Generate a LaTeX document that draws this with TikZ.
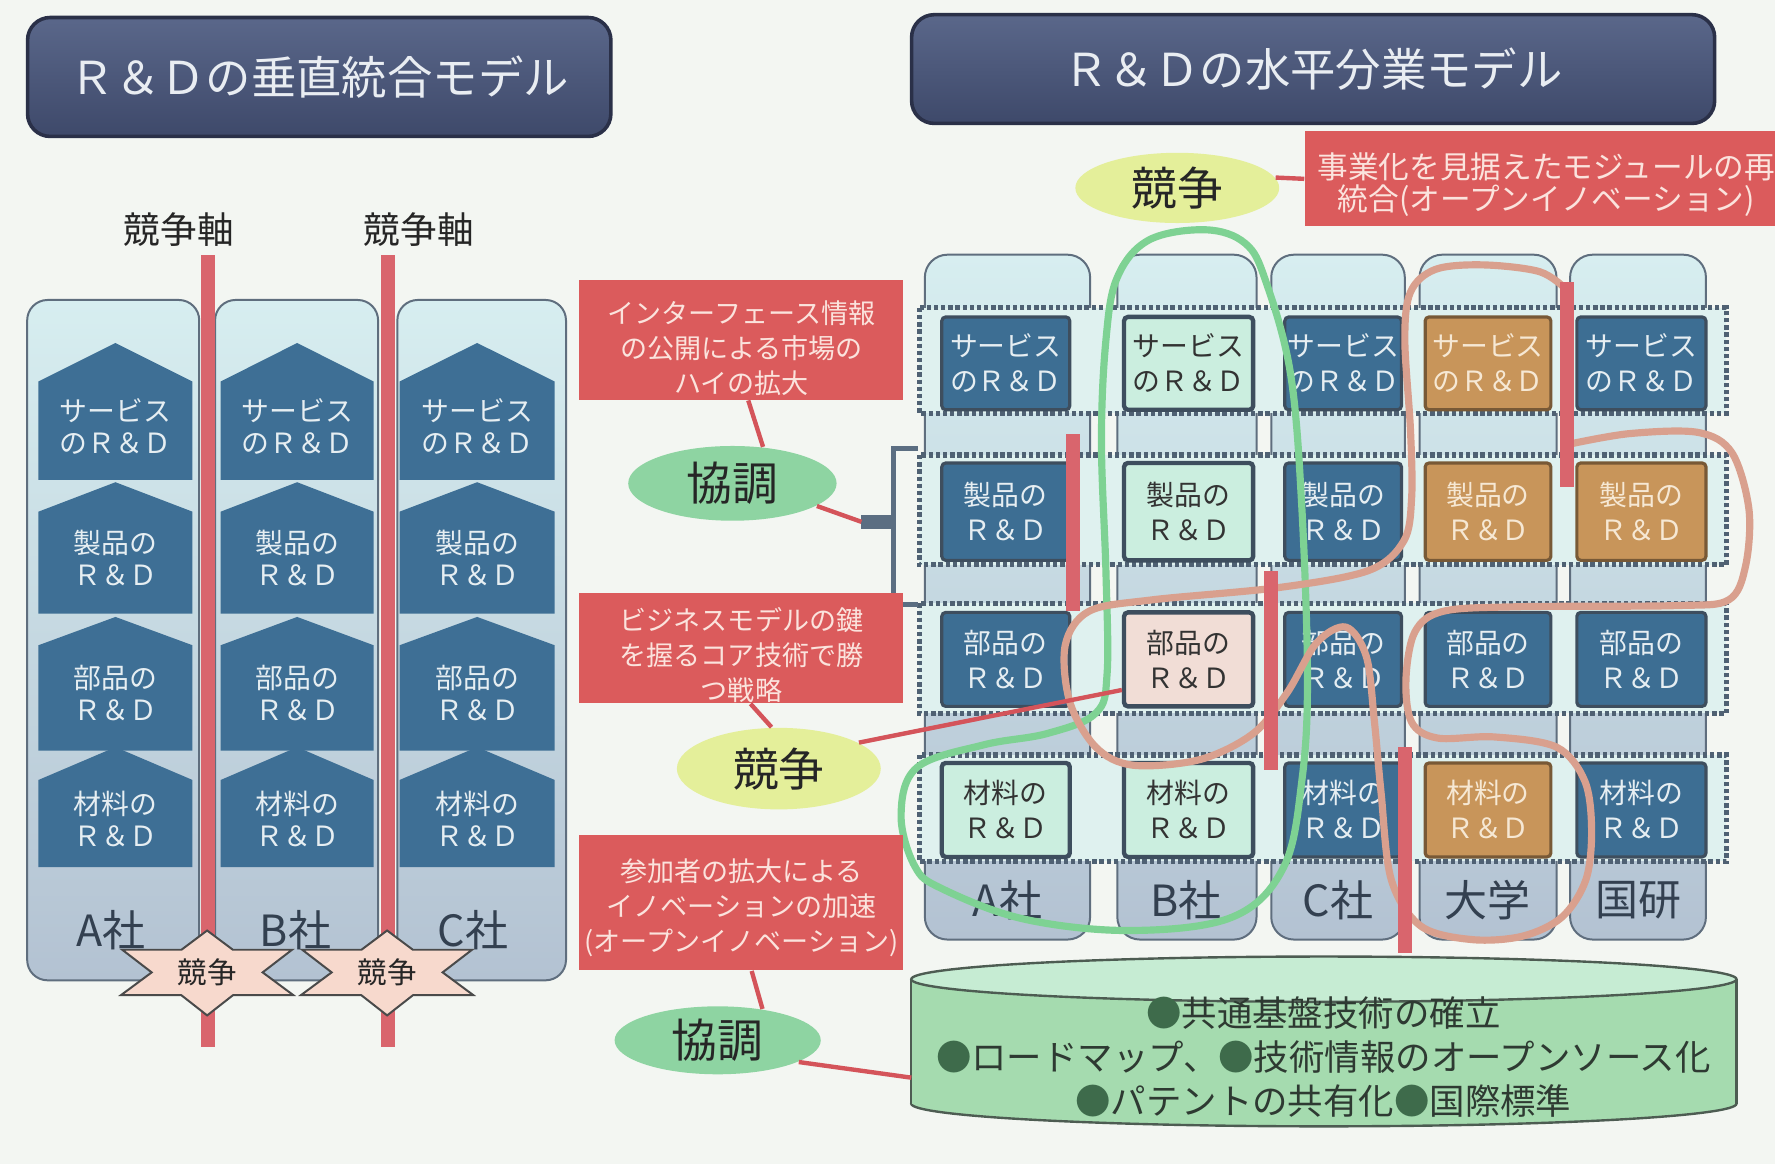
\documentclass[tikz,border=0pt]{standalone}
\usepackage{fontspec}
\setmainfont{Noto Sans CJK JP}
\usetikzlibrary{shapes.geometric}
\definecolor{paper}{HTML}{F3F6F2}
\definecolor{titleTop}{HTML}{5A678A}
\definecolor{titleBot}{HTML}{3E496A}
\definecolor{titleEdge}{HTML}{2A3048}
\definecolor{titleText}{HTML}{E9EDF2}
\definecolor{colTop}{HTML}{D7EEF0}
\definecolor{colBot}{HTML}{B3C2D2}
\definecolor{colEdge}{HTML}{5F6E7E}
\definecolor{houseC}{HTML}{3E6F95}
\definecolor{houseText}{HTML}{E6EEF2}
\definecolor{redbar}{HTML}{D9656D}
\definecolor{redbox}{HTML}{DB5B5C}
\definecolor{redboxText}{HTML}{FBE3DD}
\definecolor{starFill}{HTML}{F7D9CD}
\definecolor{starEdge}{HTML}{4A4A4A}
\definecolor{kyoG}{HTML}{8ED4A2}
\definecolor{kyoY}{HTML}{E4EF9A}
\definecolor{cellBlue}{HTML}{3D6E93}
\definecolor{cellGreen}{HTML}{CBEEDF}
\definecolor{cellPink}{HTML}{F1DDD6}
\definecolor{cellOrange}{HTML}{C8955A}
\definecolor{cellOrText}{HTML}{F6E8D4}
\definecolor{cellEdge}{HTML}{3E4E5E}
\definecolor{frameFill}{HTML}{DFF1EF}
\definecolor{frameEdge}{HTML}{4F6173}
\definecolor{greenLoop}{HTML}{7ED293}
\definecolor{pinkLoop}{HTML}{D9A08E}
\definecolor{cylBody}{HTML}{A5DBAF}
\definecolor{cylTop}{HTML}{C6ECD3}
\definecolor{cylEdge}{HTML}{4D5C52}
\definecolor{cylText}{HTML}{2E3A32}
\definecolor{dotC}{HTML}{3E6B4B}
\definecolor{bracketC}{HTML}{5B6E82}
\definecolor{labelC}{HTML}{334050}
\definecolor{conC}{HTML}{D4545A}
\newcommand{\fsz}[2]{\fontsize{#1}{#2}\selectfont}
\newcommand{\gdot}{{\color{dotC}●}}
\tikzset{
  titlebox/.style={draw=titleEdge, line width=0.9pt, rounded corners=0.2cm, top color=titleTop, bottom color=titleBot, text=titleText, font=\fsz{11.4pt}{13pt}, inner sep=0pt},
  axislabel/.style={font=\fsz{9.2pt}{11pt}, text=black!85},
  colbg/.style={draw=colEdge, line width=0.5pt, top color=colTop, bottom color=colBot},
  housesty/.style={fill=houseC},
  housetext/.style={text=houseText, font=\fsz{7pt}{8.1pt}, align=center},
  comp/.style={text=labelC, font=\fsz{10.8pt}{12pt}},
  redbarsty/.style={fill=redbar},
  starsty/.style={fill=starFill, draw=starEdge, line width=0.5pt},
  startext/.style={font=\fsz{7.4pt}{8pt}, text=black!85},
  redboxsty/.style={fill=redbox, inner sep=0pt},
  redtext/.style={text=redboxText, font=\fsz{6.8pt}{8.8pt}, align=center},
  ovalG/.style={ellipse, fill=kyoG, inner sep=0pt, font=\fsz{11.5pt}{13pt}, text=black!85},
  ovalY/.style={ellipse, fill=kyoY, inner sep=0pt, font=\fsz{11.5pt}{13pt}, text=black!85},
  con/.style={draw=conC, line width=1.1pt},
  rowframe/.style={fill=frameFill, draw=frameEdge, line width=1.3pt, dash pattern=on 1.1pt off 0.7pt},
  cellB/.style={fill=cellBlue, draw=cellEdge, line width=0.8pt, text=houseText, font=\fsz{7pt}{8.8pt}, align=center, inner sep=0pt, rounded corners=1pt},
  cellG/.style={cellB, fill=cellGreen, draw=cellEdge, line width=1.1pt, text=black!80},
  cellP/.style={cellB, fill=cellPink, draw=cellEdge, line width=1.1pt, text=black!80},
  cellO/.style={cellB, fill=cellOrange, draw=cellOrange!60!black, text=cellOrText},
  loopG/.style={draw=greenLoop, line width=1.8pt},
  loopP/.style={draw=pinkLoop, line width=1.8pt},
  cyltext/.style={text=cylText, font=\fsz{8.9pt}{11.1pt}, align=center}
}
\begin{document}
\begin{tikzpicture}[x=0.01cm,y=-0.01cm]
\useasboundingbox (0,0) rectangle (1568,1028);
\fill[paper] (0,0) rectangle (1568,1028);

% ---------- titles ----------
\node[titlebox, minimum width=5.15cm, minimum height=1.05cm] (tL) at (282,68) {Ｒ＆Ｄの垂直統合モデル};
\node[titlebox, minimum width=7.09cm, minimum height=0.96cm] (tR) at (1160,61) {Ｒ＆Ｄの水平分業モデル};

% ---------- left: vertical integration ----------
\node[axislabel] (ax1) at (158,203) {競争軸};
\node[axislabel] (ax2) at (370,203) {競争軸};

\foreach \xa/\xb in {24/176,190/334,351/500}
  \path[colbg, rounded corners=0.18cm] (\xa,265) rectangle (\xb,866);

\foreach \xa/\xb/\c in {34/170/a,195/330/b,353/490/c}{
  \foreach \ya/\ye/\yb/\r/\txt in {303/337/424/s/{サービス\\のＲ＆Ｄ},426/452/542/p/{製品の\\Ｒ＆Ｄ},545/570/663/q/{部品の\\Ｒ＆Ｄ},660/689/766/m/{材料の\\Ｒ＆Ｄ}}{
    \fill[housesty] (\xa,\yb) -- (\xa,\ye) -- ({(\xa+\xb)/2},\ya) -- (\xb,\ye) -- (\xb,\yb) -- cycle;
    \node[housetext] (h\c\r) at ({(\xa+\xb)/2},{(\ye+\yb)/2-4}) {\txt};
  }
}

\fill[redbarsty] (178,225) rectangle (190,925);
\fill[redbarsty] (337,225) rectangle (349,925);

\node[comp] (lA) at (98,822) {A社};
\node[comp] (lB) at (261,822) {B社};
\node[comp] (lC) at (418,822) {C社};

\foreach \cx/\n in {183/1,342/2}{
  \path[starsty, shift={(\cx,860)}] (0,-38) -- (22.7,-21) -- (75,-21) -- (49,-1) -- (76,19) -- (23,19) -- (0,37) -- (-23,19) -- (-76,19) -- (-49,-1) -- (-75,-21) -- (-22.7,-21) -- cycle;
  \node[startext] (st\n) at (\cx,859) {競争};
}

% ---------- right: horizontal division ----------
\foreach \xa/\xb in {817/963,987/1110,1123/1241,1254/1375,1387/1507}
  \path[colbg, rounded corners=0.2cm] (\xa,225) rectangle (\xb,830);

\foreach \ya/\yb in {272/365,402/499,533/630,667/761}
  \path[rowframe] (812,\ya) rectangle (1525,\yb);

% cells: row s (service)
\node[cellB, minimum width=1.13cm, minimum height=0.82cm] (cAs) at (888.5,321) {サービス\\のＲ＆Ｄ};
\node[cellG, minimum width=1.14cm, minimum height=0.82cm] (cBs) at (1050,321) {サービス\\のＲ＆Ｄ};
\node[cellB, minimum width=1.03cm, minimum height=0.82cm] (cCs) at (1186.5,321) {サービス\\のＲ＆Ｄ};
\node[cellO, minimum width=1.11cm, minimum height=0.82cm] (cUs) at (1314.5,321) {サービス\\のＲ＆Ｄ};
\node[cellB, minimum width=1.14cm, minimum height=0.82cm] (cKs) at (1450,321) {サービス\\のＲ＆Ｄ};
% row p (product)
\node[cellB, minimum width=1.13cm, minimum height=0.86cm] (cAp) at (888.5,452) {製品の\\Ｒ＆Ｄ};
\node[cellG, minimum width=1.14cm, minimum height=0.86cm] (cBp) at (1050,452) {製品の\\Ｒ＆Ｄ};
\node[cellB, minimum width=1.03cm, minimum height=0.86cm] (cCp) at (1186.5,452) {製品の\\Ｒ＆Ｄ};
\node[cellO, minimum width=1.11cm, minimum height=0.86cm] (cUp) at (1314.5,452) {製品の\\Ｒ＆Ｄ};
\node[cellO, minimum width=1.14cm, minimum height=0.86cm] (cKp) at (1450,452) {製品の\\Ｒ＆Ｄ};
% row q (parts)
\node[cellB, minimum width=1.13cm, minimum height=0.83cm] (cAq) at (888.5,582.5) {部品の\\Ｒ＆Ｄ};
\node[cellP, minimum width=1.14cm, minimum height=0.83cm] (cBq) at (1050,582.5) {部品の\\Ｒ＆Ｄ};
\node[cellB, minimum width=1.03cm, minimum height=0.83cm] (cCq) at (1186.5,582.5) {部品の\\Ｒ＆Ｄ};
\node[cellB, minimum width=1.11cm, minimum height=0.83cm] (cUq) at (1314.5,582.5) {部品の\\Ｒ＆Ｄ};
\node[cellB, minimum width=1.14cm, minimum height=0.83cm] (cKq) at (1450,582.5) {部品の\\Ｒ＆Ｄ};
% row m (materials)
\node[cellG, minimum width=1.13cm, minimum height=0.83cm] (cAm) at (888.5,715.5) {材料の\\Ｒ＆Ｄ};
\node[cellG, minimum width=1.14cm, minimum height=0.83cm] (cBm) at (1050,715.5) {材料の\\Ｒ＆Ｄ};
\node[cellB, minimum width=1.03cm, minimum height=0.83cm] (cCm) at (1186.5,715.5) {材料の\\Ｒ＆Ｄ};
\node[cellO, minimum width=1.11cm, minimum height=0.83cm] (cUm) at (1314.5,715.5) {材料の\\Ｒ＆Ｄ};
\node[cellB, minimum width=1.14cm, minimum height=0.83cm] (cKm) at (1450,715.5) {材料の\\Ｒ＆Ｄ};

\node[comp] (rA) at (890,795) {A社};
\node[comp] (rB) at (1048,795) {B社};
\node[comp] (rC) at (1182,795) {C社};
\node[comp] (rU) at (1314,795) {大学};
\node[comp] (rK) at (1447,795) {国研};

% cylinder (common base)
\filldraw[fill=cylBody, draw=cylEdge, line width=0.6pt] (1169.5,975) ellipse [x radius=364.5, y radius=20];
\fill[cylBody] (805,865) rectangle (1534,975);
\draw[cylEdge, line width=0.6pt] (805,865) -- (805,975) (1534,865) -- (1534,975);
\filldraw[fill=cylTop, draw=cylEdge, line width=0.6pt] (1169.5,865) ellipse [x radius=364.5, y radius=20];
\coordinate (cylL) at (805,952);
\node[cyltext] (cylT) at (1169,934) {\gdot 共通基盤技術の確立\\\gdot ロードマップ、\gdot 技術情報のオープンソース化\\\gdot パテントの共有化\gdot 国際標準};

% loops
\draw[loopG] plot[smooth cycle, tension=0.6] coordinates {(1065,203) (1015,212) (987,245) (977,300) (973,390) (977,506) (978,595) (968,630) (925,648) (869,658) (810,678) (796,720) (808,765) (832,785) (905,812) (1000,822) (1089,810) (1134,766) (1150,690) (1155,600) (1150,448) (1140,330) (1118,248) (1100,215)};
\draw[loopP] plot[smooth, tension=0.55] coordinates {(1384,256) (1360,240) (1310,234) (1268,238) (1246,258) (1241,300) (1246,380) (1247,440) (1240,478) (1209,504) (1130,519) (1017,530) (962,540) (941,570) (945,620) (968,660) (1001,676) (1060,671) (1107,648) (1137,612) (1163,568) (1189,554) (1207,580) (1214,636) (1220,700) (1229,777) (1255,818) (1300,830) (1345,827) (1380,810) (1401,777) (1406,733) (1400,690) (1375,660) (1320,651) (1270,652) (1247,638) (1242,600) (1250,558) (1275,540) (1340,536) (1480,535) (1527,530) (1542,500) (1545,450) (1530,400) (1500,382) (1440,383) (1388,392)};

% red bars right
\fill[redbarsty] (942,383) rectangle (954,540);
\fill[redbarsty] (1117,504) rectangle (1129,680);
\fill[redbarsty] (1235,660) rectangle (1247,842);
\fill[redbarsty] (1378,249) rectangle (1390,430);

% bracket
\draw[bracketC, line width=1.3pt] (811,396) -- (789,396) -- (789,534) -- (811,534);
\fill[bracketC] (761,455) rectangle (789,467);
\coordinate (brk) at (761,461);

% ---------- middle: red boxes ----------
\node[redboxsty, minimum width=2.86cm, minimum height=1.06cm] (b1) at (655,300) {};
\node[redtext] (b1t) at (655,308) {インターフェース情報\\の公開による市場の\\ハイの拡大};
\node[redboxsty, minimum width=2.86cm, minimum height=0.97cm] (b2) at (655,572.5) {};
\node[redtext] (b2t) at (655,579) {ビジネスモデルの鍵\\を握るコア技術で勝\\つ戦略};
\node[redboxsty, minimum width=2.86cm, minimum height=1.19cm] (b3) at (655,797.5) {};
\node[redtext] (b3t) at (655,802) {参加者の拡大による\\イノベーションの加速\\(オープンイノベーション)};
\node[redboxsty, minimum width=4.22cm, minimum height=0.84cm] (bT) at (1364,158) {};
\node[redtext, font=\fsz{7.7pt}{8.2pt}] (bTt) at (1366,163) {事業化を見据えたモジュールの再\\統合(オープンイノベーション)};

% ellipses
\node[ovalG, minimum width=1.84cm, minimum height=0.66cm] (k1) at (647,427) {協調};
\node[ovalY, minimum width=1.80cm, minimum height=0.72cm] (k2) at (688,679) {競争};
\node[ovalG, minimum width=1.82cm, minimum height=0.60cm] (k3) at (634,919) {協調};
\node[ovalY, minimum width=1.80cm, minimum height=0.62cm] (kT) at (1040,166) {競争};

% connectors
\draw[con] ([xshift=0.06cm]b1.south) -- (k1.50);
\draw[con] (k1.-15) -- (brk);
\draw[con] ([xshift=0.08cm]b2.south) -- (k2.100);
\draw[con] (k2.18) -- ([yshift=-0.27cm]cBq.west);
\draw[con] ([xshift=0.09cm]b3.south) -- (k3.35);
\draw[con] (k3.-15) -- (cylL);
\draw[con] (kT.6) -- (bT.west);
\end{tikzpicture}
\end{document}
